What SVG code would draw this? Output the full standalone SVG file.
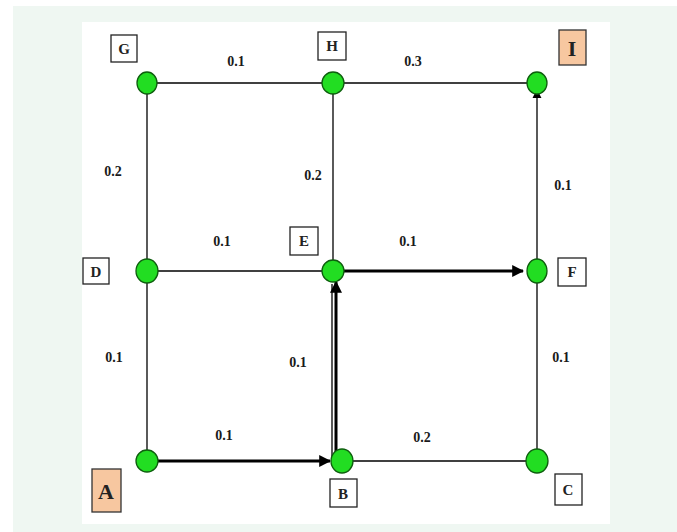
<svg xmlns="http://www.w3.org/2000/svg" width="677" height="532" viewBox="0 0 677 532">
<defs>
<style>
.edge{stroke:#000;stroke-width:1.3;fill:none}
.bold{stroke:#000;stroke-width:3;fill:none}
.node{fill:#22dd22;stroke:#0e5e0e;stroke-width:1.3}
.box{fill:#fff;stroke:#222;stroke-width:1.3}
.obox{fill:#f7c7a0;stroke:#333;stroke-width:1.3}
.lt{font-family:"Liberation Serif",serif;font-weight:bold;font-size:15px;fill:#222;text-anchor:middle}
.blt{font-family:"Liberation Serif",serif;font-weight:bold;font-size:22px;fill:#222;text-anchor:middle}
.w{font-family:"Liberation Serif",serif;font-weight:bold;font-size:14px;fill:#1a1a1a;text-anchor:middle}
</style>
<marker id="ah" viewBox="0 0 10 10" refX="9" refY="5" markerWidth="4" markerHeight="4" orient="auto" markerUnits="strokeWidth"><path d="M0,0 L10,5 L0,10 z" fill="#000"/></marker>
<marker id="ahs" viewBox="0 0 10 10" refX="9" refY="5" markerWidth="7" markerHeight="7" orient="auto" markerUnits="strokeWidth"><path d="M0,0 L10,5 L0,10 z" fill="#000"/></marker>
</defs>
<rect x="0" y="0" width="677" height="532" fill="#fff"/>
<rect x="13" y="6" width="664" height="526" fill="#eff7f2"/>
<rect x="82" y="22" width="528" height="502" fill="#fff"/>
<g id="connectors">
<line class="edge" x1="147" y1="83" x2="333" y2="83"/>
<line class="edge" x1="333" y1="83" x2="537" y2="83"/>
<line class="edge" x1="147" y1="83" x2="147" y2="271"/>
<line class="edge" x1="147" y1="271" x2="147" y2="461"/>
<line class="edge" x1="333" y1="83" x2="333" y2="271"/>
<line class="edge" x1="147" y1="271" x2="333" y2="271"/>
<line class="edge" x1="537" y1="271" x2="537" y2="461"/>
<line class="edge" x1="342" y1="461" x2="537" y2="461"/>
<line class="edge" x1="537" y1="271" x2="537" y2="90" marker-end="url(#ahs)"/>
<line class="bold" x1="150" y1="461" x2="330" y2="461" marker-end="url(#ah)"/>
<line class="edge" x1="332" y1="461" x2="332" y2="284"/>
<line class="bold" x1="336" y1="461" x2="336" y2="282" marker-end="url(#ah)"/>
<line class="bold" x1="337" y1="271" x2="523" y2="271" marker-end="url(#ah)"/>
</g>
<g id="G"><ellipse class="node" cx="147" cy="83" rx="10" ry="11"/><rect class="box" x="111" y="35" width="26" height="27"/><text class="lt" x="124" y="54">G</text></g>
<g id="H"><ellipse class="node" cx="333" cy="83" rx="11" ry="11"/><rect class="box" x="318" y="32" width="28" height="28"/><text class="lt" x="332" y="51">H</text></g>
<g id="I"><ellipse class="node" cx="537" cy="83" rx="10" ry="11"/><rect class="obox" x="559" y="30" width="27" height="35"/><text class="blt" x="572" y="56">I</text></g>
<g id="D"><ellipse class="node" cx="147" cy="271" rx="11" ry="12"/><rect class="box" x="83" y="258" width="26" height="26"/><text class="lt" x="96" y="277">D</text></g>
<g id="E"><ellipse class="node" cx="333" cy="271" rx="11" ry="11"/><rect class="box" x="290" y="227" width="28" height="28"/><text class="lt" x="304" y="246">E</text></g>
<g id="F"><ellipse class="node" cx="537" cy="271" rx="10" ry="12"/><rect class="box" x="558" y="258" width="28" height="28"/><text class="lt" x="572" y="277">F</text></g>
<g id="A"><ellipse class="node" cx="147" cy="461" rx="11" ry="11"/><rect class="obox" x="92" y="469" width="29" height="43"/><text class="blt" x="106" y="499">A</text></g>
<g id="B"><ellipse class="node" cx="342" cy="461" rx="11" ry="12"/><rect class="box" x="330" y="479" width="27" height="28"/><text class="lt" x="343" y="499">B</text></g>
<g id="C"><ellipse class="node" cx="537" cy="461" rx="11" ry="12"/><rect class="box" x="555" y="474" width="27" height="31"/><text class="lt" x="568" y="495">C</text></g>
<g id="weights">
<text class="w" x="236" y="66">0.1</text>
<text class="w" x="413" y="66">0.3</text>
<text class="w" x="113" y="176">0.2</text>
<text class="w" x="313" y="180">0.2</text>
<text class="w" x="563" y="190">0.1</text>
<text class="w" x="222" y="246">0.1</text>
<text class="w" x="408" y="246">0.1</text>
<text class="w" x="114" y="362">0.1</text>
<text class="w" x="298" y="367">0.1</text>
<text class="w" x="561" y="362">0.1</text>
<text class="w" x="224" y="440">0.1</text>
<text class="w" x="422" y="442">0.2</text>
</g>
</svg>
